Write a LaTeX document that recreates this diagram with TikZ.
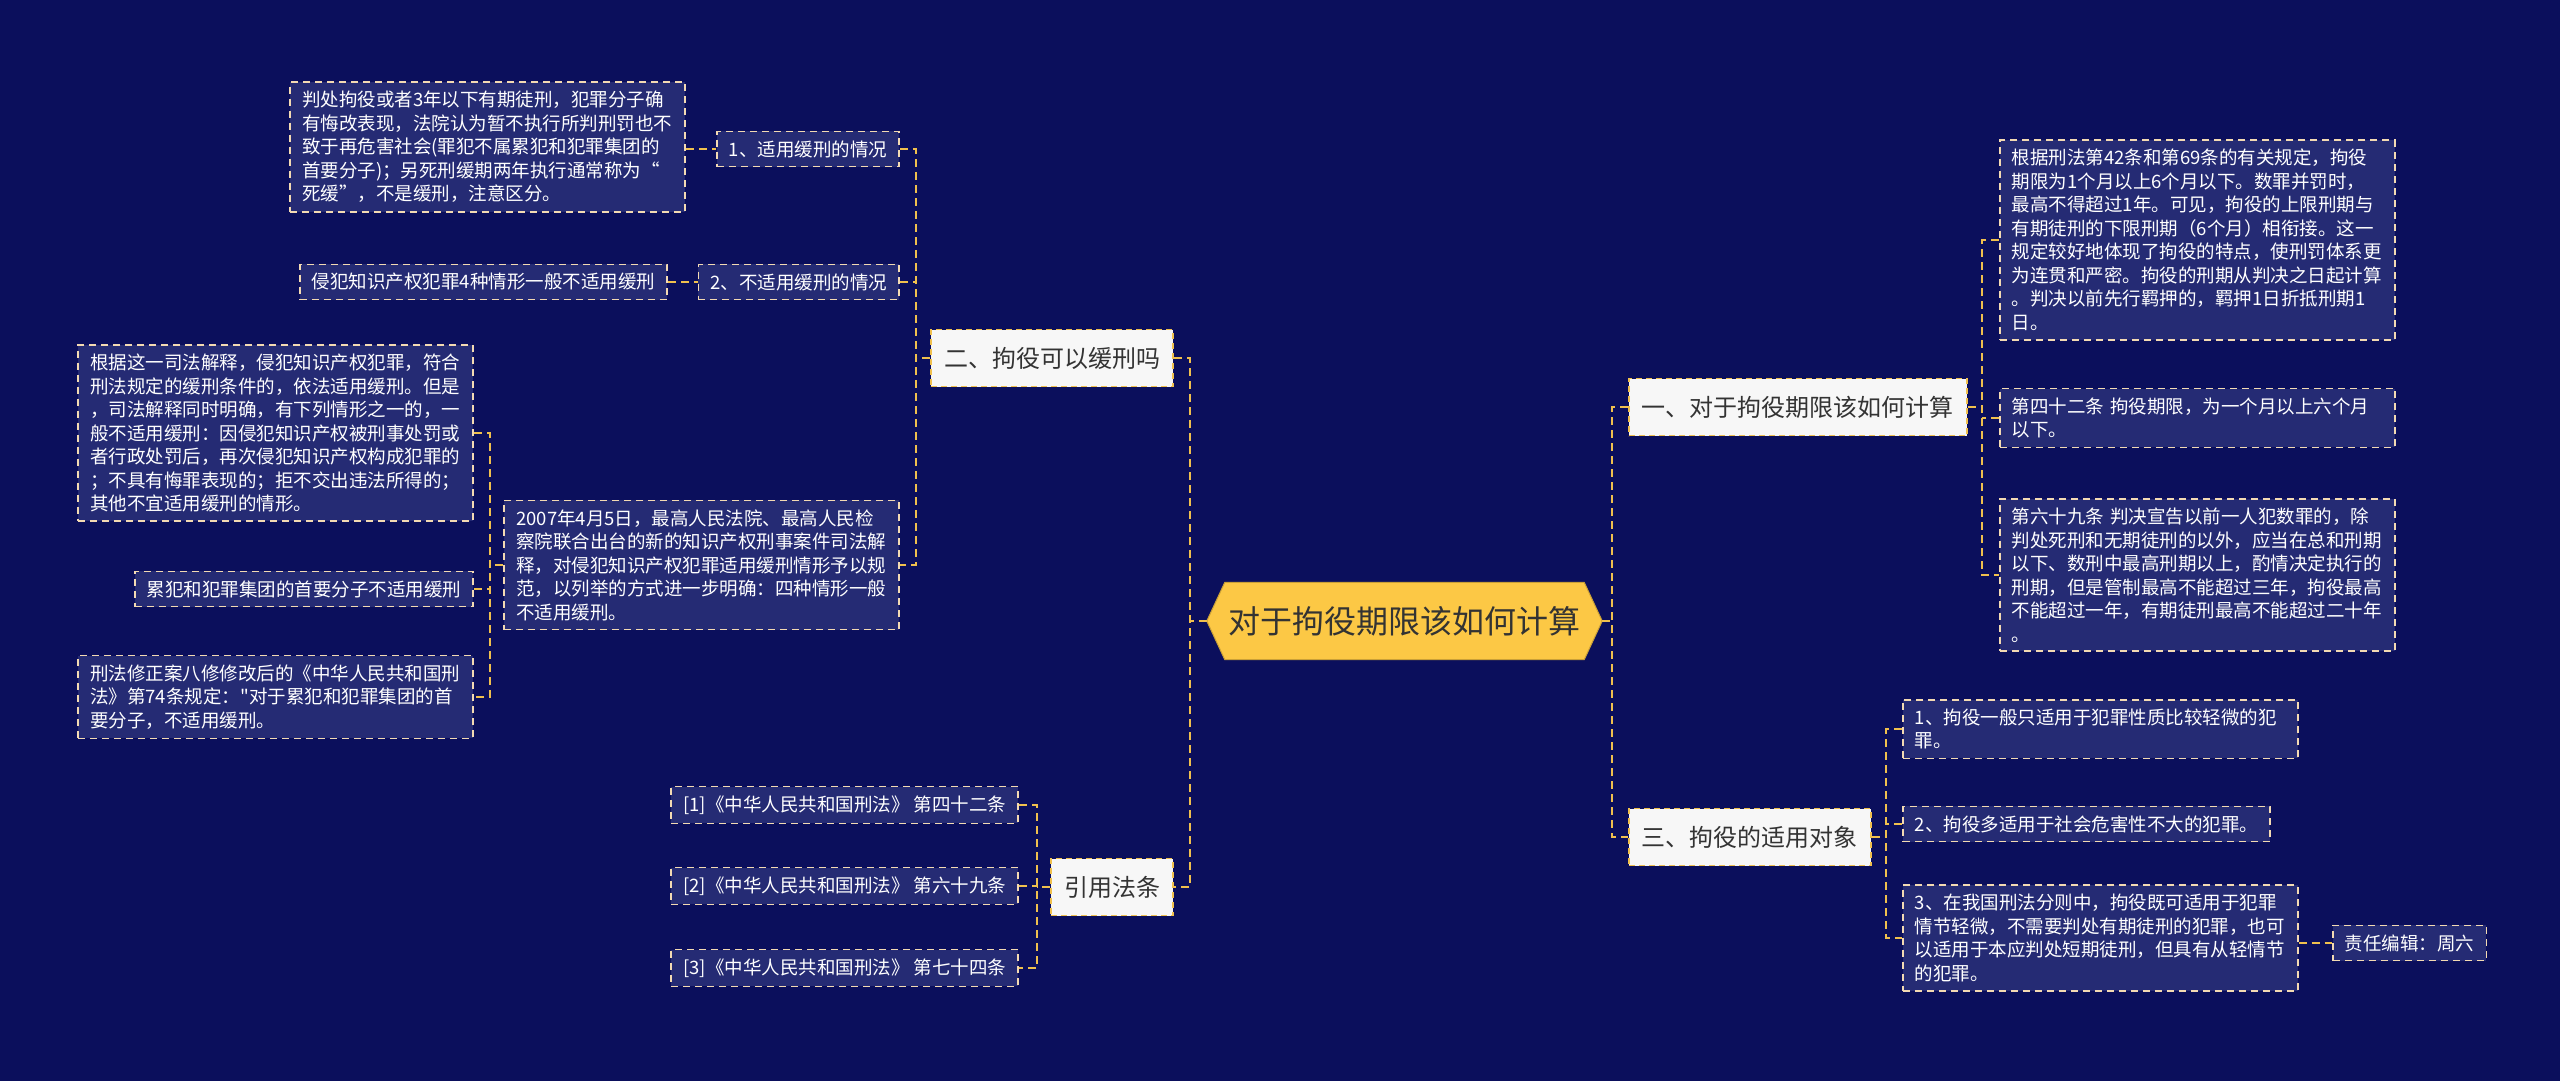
\documentclass[tikz,border=0pt]{standalone}
\usepackage{fontspec}
\setmainfont{Noto Sans CJK SC}
\newfontfamily\plainq{Noto Sans CJK SC}
\usetikzlibrary{calc}
\definecolor{bgc}{HTML}{0B0F5C}
\definecolor{boxc}{HTML}{252B74}
\definecolor{bordc}{HTML}{F3DAB3}
\definecolor{connc}{HTML}{F0C04E}
\definecolor{lvlfill}{HTML}{F7F7F7}
\definecolor{lvltext}{HTML}{333333}
\definecolor{hexc}{HTML}{FCC845}
\begin{document}
\begin{tikzpicture}[x=1pt,y=-1pt,
  txt/.style={draw=bordc, fill=boxc, dash pattern=on 7pt off 5pt, line width=1.6pt, text=white,
    font=\fontsize{18.5}{23.5}\selectfont, align=left, inner xsep=12pt, inner ysep=9pt},
  wide/.style={txt, text width=371pt},
  lvl/.style={draw=connc, fill=lvlfill, dash pattern=on 6pt off 4pt, line width=1.6pt, text=lvltext,
    font=\fontsize{24}{28}\selectfont, inner xsep=13pt, minimum height=57pt},
  conn/.style={draw=connc, line width=2pt, dash pattern=on 8pt off 5pt}]
\fill[bgc] (0,0) rectangle (2560,1081);
\useasboundingbox (0,0) rectangle (2560,1081);

% centre
\node[minimum width=395pt, minimum height=77pt, inner sep=0pt] (c) at (1404.5,621) {};
\fill[hexc, draw=hexc!80!black, line width=1pt] (c.west) -- ($(c.north west)+(18,0)$) -- ($(c.north east)+(-18,0)$) -- (c.east) -- ($(c.south east)+(-18,0)$) -- ($(c.south west)+(18,0)$) -- cycle;
\node[text=lvltext, font=\fontsize{32}{36}\selectfont] (ct) at (c.center) {对于拘役期限该如何计算};

% right level 1
\node[lvl, anchor=west] (R) at (1628,407) {一、对于拘役期限该如何计算};
\node[lvl, anchor=west] (S) at (1628,837) {三、拘役的适用对象};
% left level 1
\node[lvl, anchor=east] (A) at (1174,358) {二、拘役可以缓刑吗};
\node[lvl, anchor=east] (B) at (1174,887) {引用法条};

% right children
\node[wide, anchor=west] (R1) at (1999,240) {根据刑法第42条和第69条的有关规定，拘役\\期限为1个月以上6个月以下。数罪并罚时，\\最高不得超过1年。可见，拘役的上限刑期与\\有期徒刑的下限刑期（6个月）相衔接。这一\\规定较好地体现了拘役的特点，使刑罚体系更\\为连贯和严密。拘役的刑期从判决之日起计算\\。判决以前先行羁押的，羁押1日折抵刑期1\\日。};
\node[wide, anchor=west] (R2) at (1999,418) {第四十二条 拘役期限，为一个月以上六个月\\以下。};
\node[wide, anchor=west] (R3) at (1999,575) {第六十九条 判决宣告以前一人犯数罪的，除\\判处死刑和无期徒刑的以外，应当在总和刑期\\以下、数刑中最高刑期以上，酌情决定执行的\\刑期，但是管制最高不能超过三年，拘役最高\\不能超过一年，有期徒刑最高不能超过二十年\\。};

\node[wide, anchor=west] (S1) at (1902,729) {1、拘役一般只适用于犯罪性质比较轻微的犯\\罪。};
\node[txt, anchor=west] (S2) at (1902,824) {2、拘役多适用于社会危害性不大的犯罪。};
\node[wide, anchor=west] (S3) at (1902,938) {3、在我国刑法分则中，拘役既可适用于犯罪\\情节轻微，不需要判处有期徒刑的犯罪，也可\\以适用于本应判处短期徒刑，但具有从轻情节\\的犯罪。};
\node[txt, anchor=west] (S3a) at (2332,943) {责任编辑：周六};

% left children
\node[txt, anchor=east] (A1) at (900,149) {1、适用缓刑的情况};
\node[wide, anchor=east] (A1a) at (686,147) {判处拘役或者3年以下有期徒刑，犯罪分子确\\有悔改表现，法院认为暂不执行所判刑罚也不\\致于再危害社会(罪犯不属累犯和犯罪集团的\\首要分子)；另死刑缓期两年执行通常称为“\\死缓”，不是缓刑，注意区分。};
\node[txt, anchor=east] (A2) at (900,282) {2、不适用缓刑的情况};
\node[txt, anchor=east] (A2a) at (668,282) {侵犯知识产权犯罪4种情形一般不适用缓刑};
\node[wide, anchor=east] (A3) at (900,565) {2007年4月5日，最高人民法院、最高人民检\\察院联合出台的新的知识产权刑事案件司法解\\释，对侵犯知识产权犯罪适用缓刑情形予以规\\范，以列举的方式进一步明确：四种情形一般\\不适用缓刑。};
\node[wide, anchor=east] (A3a) at (474,433) {根据这一司法解释，侵犯知识产权犯罪，符合\\刑法规定的缓刑条件的，依法适用缓刑。但是\\，司法解释同时明确，有下列情形之一的，一\\般不适用缓刑：因侵犯知识产权被刑事处罚或\\者行政处罚后，再次侵犯知识产权构成犯罪的\\；不具有悔罪表现的；拒不交出违法所得的；\\其他不宜适用缓刑的情形。};
\node[txt, anchor=east] (A3b) at (474,589) {累犯和犯罪集团的首要分子不适用缓刑};
\node[wide, anchor=east] (A3c) at (474,697) {刑法修正案八修修改后的《中华人民共和国刑\\法》第74条规定：{\plainq"}对于累犯和犯罪集团的首\\要分子，不适用缓刑。};

\node[txt, anchor=east] (B1) at (1019,805) {[1]《中华人民共和国刑法》 第四十二条};
\node[txt, anchor=east] (B2) at (1019,886) {[2]《中华人民共和国刑法》 第六十九条};
\node[txt, anchor=east] (B3) at (1019,968) {[3]《中华人民共和国刑法》 第七十四条};

% junction coordinates
\coordinate (lt) at (1190,621);
\coordinate (rt) at (1612,621);
\coordinate (ax) at (916,0);
\coordinate (a3x) at (490,0);
\coordinate (bx) at (1037,0);
\coordinate (rx) at (1982,0);
\coordinate (sx) at (1886,0);

% connectors
\draw[conn] (c.west) -- (lt);
\draw[conn] (A.east) -- (A.east -| lt) -- (B.east -| lt) -- (B.east);
\draw[conn] (c.east) -- (rt);
\draw[conn] (R.west) -- (R.west -| rt) -- (S.west -| rt) -- (S.west);

\draw[conn] (A.west) -- (A.west -| ax);
\draw[conn] (A1.east) -- (A1.east -| ax) -- (A3.east -| ax) -- (A3.east);
\draw[conn] (A2.east) -- (A2.east -| ax);
\draw[conn] (A1a.east |- A1.east) -- (A1.west);
\draw[conn] (A2a.east) -- (A2.west);
\draw[conn] (A3.west) -- (A3.west -| a3x);
\draw[conn] (A3a.east) -- (A3a.east -| a3x) -- (A3c.east -| a3x) -- (A3c.east);
\draw[conn] (A3b.east) -- (A3b.east -| a3x);

\draw[conn] (B.west) -- (B.west -| bx);
\draw[conn] (B1.east) -- (B1.east -| bx) -- (B3.east -| bx) -- (B3.east);
\draw[conn] (B2.east) -- (B2.east -| bx);

\draw[conn] (R.east) -- (R.east -| rx);
\draw[conn] (R1.west) -- (R1.west -| rx) -- (R3.west -| rx) -- (R3.west);
\draw[conn] (R2.west) -- (R2.west -| rx);

\draw[conn] (S.east) -- (S.east -| sx);
\draw[conn] (S1.west) -- (S1.west -| sx) -- (S3.west -| sx) -- (S3.west);
\draw[conn] (S2.west) -- (S2.west -| sx);
\draw[conn] (S3.east |- S3a.west) -- (S3a.west);
\end{tikzpicture}
\end{document}
